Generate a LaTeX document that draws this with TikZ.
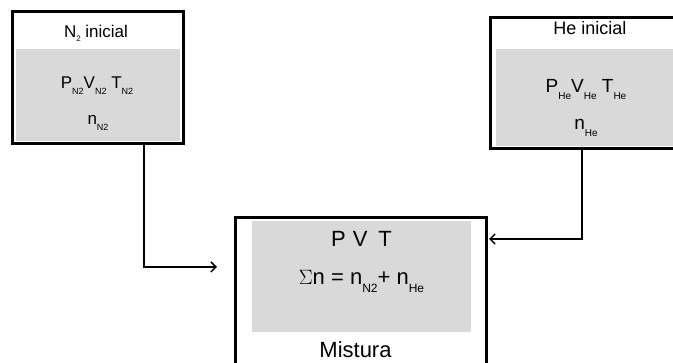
\documentclass[tikz,border=0pt]{standalone}
\usepackage{fontspec}
\setmainfont{Liberation Sans}
\usetikzlibrary{arrows.meta,positioning}
\definecolor{cinza}{HTML}{D9D9D9}
% subscript lowered below the baseline
\newcommand{\ind}[2][9]{\raisebox{-.65\dimexpr#1pt\relax}{\fontsize{#1}{#1}\selectfont #2}}

\begin{document}
\begin{tikzpicture}[x=1pt,y=-1pt,
  caixa/.style={draw, line width=3pt, inner sep=0pt},
  fundo/.style={fill=cinza, inner sep=0pt},
  rotulo/.style={inner sep=0pt, anchor=base},
  seta/.style={line width=1.5pt, -{Straight Barb[length=5pt,width=10pt]}}]
\useasboundingbox (0,0) rectangle (673,363);

% gray areas
\node[fundo, minimum width=164, minimum height=92] (n2fundo) at (98,95) {};
\node[fundo, minimum width=194, minimum height=97] (hefundo) at (593,97.5) {};
\node[fundo, minimum width=219, minimum height=111] (mixfundo) at (361.5,276.5) {};

% boxes
\node[caixa, minimum width=171, minimum height=132] (n2) at (97.5,78) {};
\node[caixa, minimum width=200, minimum height=131] (he) at (590,83.5) {};
\node[caixa, minimum width=251, minimum height=182] (mix) at (360.5,309) {};

% texts
\node[rotulo, font=\fontsize{17}{17}\selectfont] (n2tit) at (96,38)
  {N\raisebox{-4pt}{\fontsize{8}{8}\selectfont 2} inicial};
\node[rotulo, font=\fontsize{17}{17}\selectfont] (n2pvt) at (97,89)
  {P\ind{N2}V\ind{N2} T\ind{N2}};
\node[rotulo, font=\fontsize{17}{17}\selectfont] (n2n) at (98,125) {n\ind{N2}};

\node[rotulo, font=\fontsize{18}{18}\selectfont] (hetit) at (590,35) {He inicial};
\node[rotulo, font=\fontsize{19}{19}\selectfont] (hepvt) at (586,93)
  {P\ind[10]{He}V\ind[10]{He} T\ind[10]{He}};
\node[rotulo, font=\fontsize{19}{19}\selectfont] (hen) at (586,130) {n\ind[10]{He}};

\node[rotulo, font=\fontsize{22}{22}\selectfont] (mixpvt) at (361.5,247)
  {P\hspace{7pt}V\hspace{11pt}T};
\node[rotulo, font=\fontsize{22}{22}\selectfont] (mixsoma) at (361.5,285)
  {$\Sigma$n = n\ind[12]{N2}+ n\ind[12]{He}};
\node[rotulo, font=\fontsize{22}{22}\selectfont] (mixtit) at (355.5,358) {Mistura};

% connectors
\coordinate (entra1) at (217,267);
\coordinate (entra2) at (489,239);
\draw[seta] (n2.south -| 144,0) |- (entra1);
\draw[seta] (he.south -| 582,0) |- (entra2);
\end{tikzpicture}
\end{document}
